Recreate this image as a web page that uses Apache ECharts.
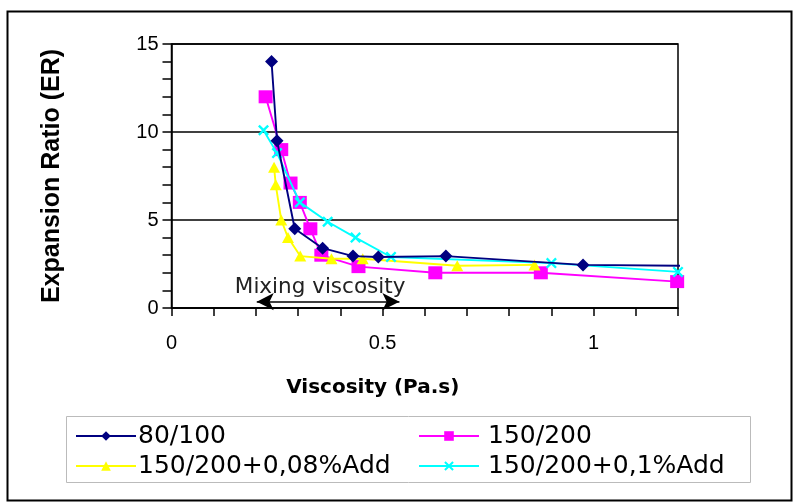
<!DOCTYPE html>
<html><head><meta charset="utf-8">
<script src="https://cdn.jsdelivr.net/npm/echarts@6/dist/echarts.min.js"></script>
<style>html,body{margin:0;padding:0;background:#fff}#c{width:793px;height:502px}</style>
</head><body><div id="c"></div>
<script>
var seriesNames = ['80/100', '150/200', '150/200+0,08%Add', '150/200+0,1%Add'];
var s80_100 = [[0.237,14],[0.25,9.5],[0.292,4.5],[0.358,3.4],[0.43,2.95],[0.49,2.9],[0.65,2.95],[0.975,2.45],[1.225,2.4]];
var s150_200 = [[0.223,12],[0.26,9],[0.282,7.1],[0.304,6],[0.329,4.5],[0.355,3],[0.443,2.35],[0.625,2.0],[0.875,2.0],[1.198,1.5]];
var s150_200_008 = [[0.243,8],[0.247,7],[0.26,5],[0.276,4],[0.305,2.95],[0.379,2.8],[0.453,2.8],[0.677,2.4],[0.86,2.45]];
var s150_200_01 = [[0.218,10.1],[0.25,8.8],[0.304,6],[0.37,4.9],[0.436,4.0],[0.52,2.9],[0.9,2.55],[1.2,2.05],[1.225,2.0]];
var xTickLabels = ['0', '0.5', '1'];
var yTickLabels = ['0', '5', '10', '15'];
var arrowRange = [[0.202, 0.36], [0.54, 0.36]];
var arrowText = 'Mixing viscosity';

var colors = ['#000080', '#ff00ff', '#ffff00', '#00ffff'];
var xSym = 'path://M0,1.5L1.5,0L5,3.5L8.5,0L10,1.5L6.5,5L10,8.5L8.5,10L5,6.5L1.5,10L0,8.5L3.5,5Z';
var symbols = ['diamond', 'rect', 'triangle', xSym];
var sizes = [[13,13],[14,13],[12,11],[11,11]];
var datas = [s80_100, s150_200, s150_200_008, s150_200_01];
var font = 'Liberation Sans, Arial, sans-serif';
var wfont = 'DejaVu Sans, sans-serif';

function lastNoSym(d){
  return d.map(function(p){ return (p[0] > 1.2) ? {value:p, symbol:'none'} : p; });
}

var series = datas.map(function(d,i){
  return {
    name: seriesNames[i], type:'line', data: lastNoSym(d), symbol: symbols[i], symbolSize: sizes[i],
    clip:false, color: colors[i], lineStyle:{width:1.9, color:colors[i]},
    itemStyle:{color:colors[i]}, z: 3 + (i===0?3:(i===3?2:i))
  };
});
series.push({
  type:'line', data:[], silent:true,
  markLine:{
    silent:true, symbol:['arrow','arrow'], symbolSize:[13,17],
    lineStyle:{color:'#000', width:1.6, type:'solid'},
    label:{show:true, position:'middle', formatter: arrowText, color:'#222', fontFamily:wfont, fontSize:21.5, distance:3, offset:[-8,0]},
    data:[[{coord:arrowRange[0]},{coord:arrowRange[1]}]]
  }
});

var chart = echarts.init(document.getElementById('c'));
chart.setOption({
  animation:false,
  backgroundColor:'#fff',
  grid:{left:171.5, right:115, top:44, bottom:194, show:true, borderColor:'#000', borderWidth:1.5},
  xAxis:{
    type:'value', min:0, max:1.2, interval:0.1,
    name:'Viscosity (Pa.s)', nameLocation:'middle', nameGap:70,
    nameTextStyle:{fontFamily:wfont, fontWeight:'bold', fontSize:20, color:'#000', padding:[0,104,0,0]},
    axisLine:{lineStyle:{color:'#000', width:1.5}},
    axisTick:{show:true, length:8, lineStyle:{color:'#000', width:1.5}},
    axisLabel:{fontFamily:font, fontSize:20, color:'#000', margin:25,
      formatter:function(v){
        var k = Math.round(v*2);
        if (Math.abs(v*2-k) < 1e-6) { return xTickLabels[k] || ''; }
        return '';
      }},
    splitLine:{show:false}
  },
  yAxis:{
    type:'value', min:0, max:15, interval:5,
    name:'Expansion Ratio (ER)', nameLocation:'middle', nameGap:107, nameRotate:90,
    nameTextStyle:{fontFamily:font, fontWeight:'bold', fontSize:25, color:'#000'},
    axisLine:{show:true, lineStyle:{color:'#000', width:1.5}},
    axisTick:{show:true, length:9, lineStyle:{color:'#000', width:1.5}},
    minorTick:{show:true, splitNumber:5, length:9, lineStyle:{color:'#000', width:1.5}},
    axisLabel:{fontFamily:font, fontSize:20, color:'#000', margin:13,
      formatter:function(v){ return yTickLabels[Math.round(v/5)]; }},
    splitLine:{show:true, lineStyle:{color:'#000', width:1.5}}
  },
  legend:[
    {data:[seriesNames[0], seriesNames[2]], orient:'vertical', left:70, top:416, itemWidth:60, itemHeight:12, itemGap:0,
     textStyle:{fontFamily:wfont, fontSize:25, color:'#000', padding:[0,0,0,-3], lineHeight:30}},
    {data:[seriesNames[1], seriesNames[3]], orient:'vertical', left:413, top:416, itemWidth:60, itemHeight:12, itemGap:0,
     textStyle:{fontFamily:wfont, fontSize:25, color:'#000', padding:[0,0,0,4], lineHeight:30}}
  ],
  graphic:[
    {type:'rect', shape:{x:7.5, y:11.5, width:784, height:489}, style:{fill:'none', stroke:'#000', lineWidth:2}, silent:true},
    {type:'rect', shape:{x:66.5, y:416.5, width:684, height:66}, style:{fill:'none', stroke:'#bbb', lineWidth:1}, silent:true}
  ],
  series: series
});
</script></body></html>
